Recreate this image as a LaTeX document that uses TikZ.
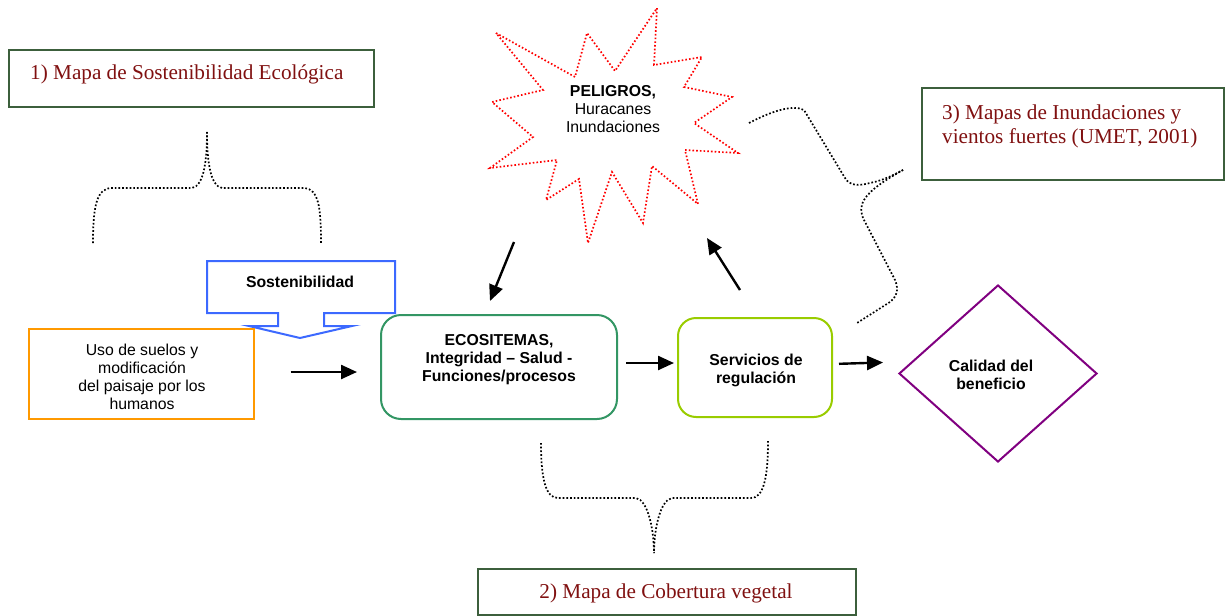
\documentclass[tikz,border=0pt]{standalone}
\usepackage{fontspec}
\setmainfont{Liberation Serif}
\setsansfont{Liberation Sans}
\usetikzlibrary{arrows.meta,shapes.geometric}

\definecolor{mapred}{RGB}{128,16,16}
\definecolor{mapframe}{RGB}{60,95,60}
\definecolor{ecogreen}{RGB}{51,150,100}
\definecolor{limegreen}{RGB}{153,204,0}
\definecolor{sostblue}{RGB}{60,105,255}
\definecolor{usoorange}{RGB}{255,153,0}
\definecolor{quality}{RGB}{128,0,128}

\tikzset{
  sanstext/.style={font=\sffamily\fontsize{15.8}{18}\selectfont, align=center, inner sep=0pt},
  boldtext/.style={font=\sffamily\bfseries\fontsize{15.8}{18}\selectfont, align=center, inner sep=0pt},
  maptext/.style={font=\fontsize{21.2}{24}\selectfont, text=mapred, align=left, inner sep=0pt},
  mapbox/.style={draw=mapframe, line width=1.3pt, inner sep=0pt},
  shapebox/.style={inner sep=0pt, line width=2pt},
  flow/.style={line width=2.4pt, -{Triangle[length=16pt,width=14pt]}},
  dotline/.style={line width=1.7pt, dash pattern=on 1.7pt off 2pt},
  stardots/.style={draw=red, line width=1.7pt, dash pattern=on 1.6pt off 2.1pt},
}

\begin{document}
\begin{tikzpicture}[x=1pt, y=-1pt]
\useasboundingbox (0,0) rectangle (1227,616);

% map reference boxes
\node[mapbox, minimum width=365pt, minimum height=57pt] (map1) at (191.5,78.5) {};
\node[maptext, anchor=base west] (map1t) at (30,79) {1) Mapa de Sostenibilidad Ecológica};

\node[mapbox, minimum width=302pt, minimum height=92pt] (map3) at (1073,134) {};
\node[maptext, anchor=north west] (map3t) at (942,105) {3) Mapas de Inundaciones y\\vientos fuertes (UMET, 2001)};

\node[mapbox, minimum width=378pt, minimum height=46pt] (map2) at (667,592) {};
\node[maptext, anchor=base] (map2t) at (666,598) {2) Mapa de Cobertura vegetal};

% hazard burst
\draw[stardots] (496,33) -- (575,77) -- (587,33) -- (615,71) -- (657,8) -- (654,65)
  -- (702,57) -- (684,87) -- (732,97) -- (694,123) -- (738,153) -- (685,150)
  -- (698,204) -- (652,166) -- (643,223) -- (612,172) -- (588,243) -- (579,179)
  -- (546,200) -- (557,160) -- (490,168) -- (533,137) -- (492,102) -- (543,90) -- cycle;
\node[sanstext] (peligros) at (613,109) {\textbf{PELIGROS,}\\Huracanes\\Inundaciones};

% sustainability callout
\draw[sostblue, line width=2pt, line join=miter]
  (207,261) -- (395,261) -- (395,313) -- (324,313) -- (324,326) -- (352,326)
  -- (300,338) -- (249,326) -- (278,326) -- (278,313) -- (207,313) -- cycle;
\node[boldtext] (sost) at (300,281.5) {Sostenibilidad};

% main flow
\node[shapebox, draw=usoorange, minimum width=225pt, minimum height=90pt] (uso) at (141,374) {};
\node[sanstext] (usot) at (142,376.5) {Uso de suelos y\\modificación\\del paisaje por los\\humanos};

\node[shapebox, draw=ecogreen, rounded corners=20pt, minimum width=236pt, minimum height=104pt] (eco) at (499,367) {};
\node[boldtext] (ecot) at (499,360) {ECOSITEMAS,\\Integridad – Salud -\\Funciones/procesos};

\node[shapebox, draw=limegreen, rounded corners=18pt, minimum width=154pt, minimum height=99pt] (serv) at (755,367.5) {};
\node[boldtext] (servt) at (756,370) {Servicios de\\regulación};

\node[shapebox, draw=quality, shape=diamond, minimum width=198pt, minimum height=177pt] (calidad) at (998,373.5) {};
\node[boldtext] (calidadt) at (991,375) {Calidad del\\beneficio};

\draw[flow, shorten <=36pt, shorten >=23pt] (uso.east |- 0,372) -- (eco.west |- 0,372);
\draw[flow, shorten <=8pt, shorten >=3pt] (eco.east |- 0,363) -- (serv.west |- 0,363);
\draw[flow, shorten <=6pt, shorten >=15pt] (serv.east |- 0,364) -- (calidad.west |- 0,362);

% links with the hazard burst
\coordinate (hzA) at (514,242);
\coordinate (hzB) at (490,301);
\coordinate (hzC) at (740,290);
\coordinate (hzD) at (707,238);
\draw[flow] (hzA) -- (hzB);
\draw[flow] (hzC) -- (hzD);

% dotted braces pointing to the maps
\draw[dotline] (93,243) .. controls (93,205) and (97,188) .. (112,188) -- (192,188)
  .. controls (204,186) and (207,160) .. (207,132);
\draw[dotline] (207,132) .. controls (207,160) and (210,186) .. (222,188) -- (305,188)
  .. controls (318,190) and (321,205) .. (321,243);

\draw[dotline] (541,443) .. controls (541,480) and (546,498) .. (558,498) -- (636,498)
  .. controls (648,500) and (654,530) .. (654,553);
\draw[dotline] (768,441) .. controls (768,480) and (763,498) .. (751,498) -- (672,498)
  .. controls (660,500) and (654,530) .. (654,553);

\draw[dotline] (749,123) .. controls (770,112) and (792,104) .. (804,110) -- (845,178)
  .. controls (850,186) and (858,186) .. (870,183) .. controls (885,180) and (895,174) .. (903,170);
\draw[dotline] (903,170) .. controls (885,180) and (870,190) .. (864,200)
  .. controls (860,207) and (861,212) .. (863,218) -- (895,280)
  .. controls (899,290) and (897,296) .. (890,302) -- (857,323);
\end{tikzpicture}
\end{document}
